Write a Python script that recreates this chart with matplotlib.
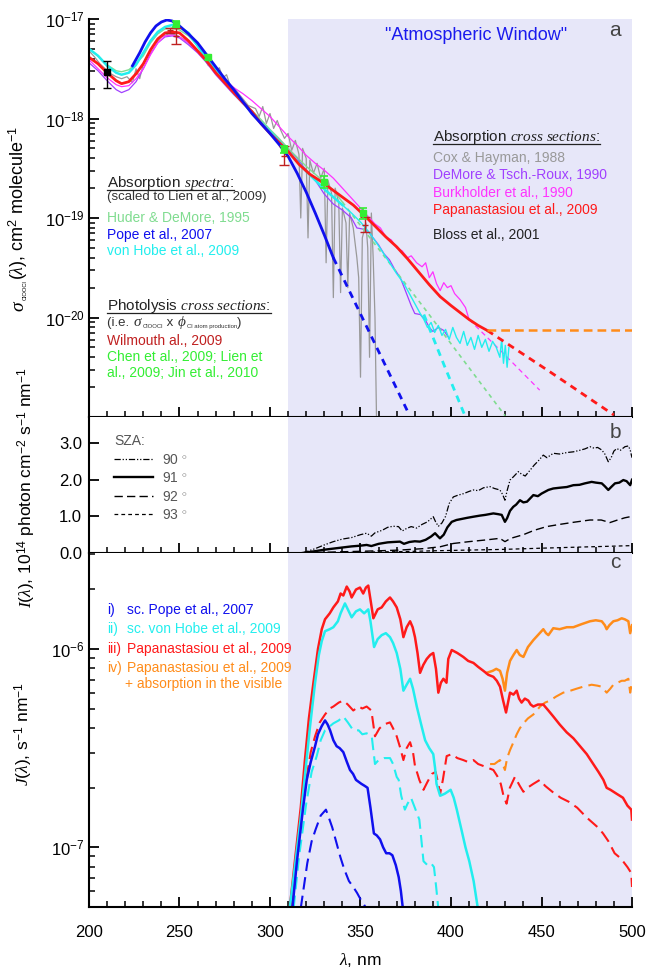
import numpy as np
import matplotlib
matplotlib.use('Agg')
import matplotlib.pyplot as plt
from matplotlib.ticker import FixedLocator, LogLocator, NullFormatter, MultipleLocator, LogFormatterSciNotation, FormatStrFormatter
from matplotlib.lines import Line2D

plt.rcParams['font.family'] = ['Liberation Sans', 'DejaVu Sans']
plt.rcParams['mathtext.fontset'] = 'custom'
plt.rcParams['mathtext.rm'] = 'Liberation Sans'
plt.rcParams['mathtext.it'] = 'Liberation Serif:italic'
plt.rcParams['mathtext.bf'] = 'Liberation Sans:bold'
plt.rcParams['mathtext.sf'] = 'Liberation Sans'
plt.rcParams['axes.unicode_minus'] = True

# ---------------- Panel a data: (wavelength nm, log10 cross section) ----------------
pope_lam = [224, 228, 231, 234, 237, 240, 243, 246, 250, 255, 260, 265, 270, 275, 280, 285, 290,
            295, 300, 305, 310, 315, 320, 325, 330, 335]
pope_log = [-17.47, -17.34, -17.23, -17.14, -17.07, -17.03, -17.01, -17.02, -17.07, -17.15, -17.24,
            -17.36, -17.48, -17.60, -17.71, -17.83, -17.95, -18.05, -18.15, -18.26, -18.38, -18.55,
            -18.74, -18.95, -19.17, -19.40]
pope_ext_lam = [335, 356, 377]
pope_ext_log = [-19.40, -20.19, -20.98]

hobe_lam = [200, 205, 210, 215, 218, 222, 226, 230, 234, 238, 242, 246, 250, 255, 260, 265, 270, 275,
            280, 285, 290, 295, 300, 305, 310, 315, 320, 325, 330, 335, 340, 345, 350, 355, 360, 365,
            370, 374, 377, 380, 383, 385, 387, 389, 391, 393, 395, 397, 399, 401, 403, 405, 407, 409,
            411, 413, 415, 417, 419, 421, 423, 425, 427, 428, 429, 430, 431, 432]
hobe_log = [-17.30, -17.37, -17.47, -17.54, -17.56, -17.54, -17.46, -17.34, -17.22, -17.13, -17.08,
            -17.06, -17.08, -17.14, -17.27, -17.40, -17.51, -17.63, -17.74, -17.84, -17.94, -18.04,
            -18.13, -18.23, -18.33, -18.43, -18.53, -18.62, -18.71, -18.79, -18.87, -18.95, -19.04,
            -19.15, -19.28, -19.42, -19.56, -19.66, -19.76, -19.86, -19.96, -20.02, -20.10, -20.05,
            -20.15, -20.08, -20.18, -20.12, -20.22, -20.10, -20.20, -20.26, -20.14, -20.28, -20.20,
            -20.32, -20.18, -20.30, -20.22, -20.34, -20.24, -20.30, -20.40, -20.22, -20.46, -20.28,
            -20.50, -20.30]
hobe_ext_lam = [385, 396, 408]
hobe_ext_log = [-19.97, -20.47, -21.0]

huder_lam = [200, 205, 210, 215, 218, 222, 226, 230, 234, 238, 242, 246, 250, 255, 260, 265, 270, 275,
             280, 285, 290, 295, 300, 305, 310, 315, 320, 325, 330, 335, 340]
huder_log = [-17.30, -17.37, -17.46, -17.52, -17.53, -17.51, -17.45, -17.37, -17.24, -17.15, -17.10,
             -17.09, -17.11, -17.17, -17.27, -17.39, -17.51, -17.62, -17.73, -17.83, -17.92, -18.01,
             -18.11, -18.20, -18.30, -18.39, -18.48, -18.56, -18.64, -18.72, -18.84]
huder_ext_lam = [340, 385, 430]
huder_ext_log = [-18.84, -19.90, -20.99]

papa_lam = [200, 205, 210, 215, 218, 222, 226, 230, 234, 238, 242, 246, 250, 255, 260, 265, 270, 275,
            280, 285, 290, 295, 300, 305, 310, 316, 322, 328, 334, 340, 346, 353, 358, 364, 370, 376,
            382, 388, 394, 400, 405, 410, 415, 420]
papa_log = [-17.385, -17.45, -17.54, -17.62, -17.65, -17.63, -17.55, -17.45, -17.31, -17.20, -17.14,
            -17.13, -17.14, -17.22, -17.32, -17.42, -17.54, -17.64, -17.74, -17.84, -17.93, -18.05,
            -18.15, -18.24, -18.33, -18.46, -18.56, -18.63, -18.71, -18.79, -18.87, -18.99, -19.08,
            -19.19, -19.29, -19.41, -19.54, -19.67, -19.79, -19.88, -19.95, -20.02, -20.08, -20.13]
papa_ext_lam = [420, 455, 490]
papa_ext_log = [-20.13, -20.55, -20.98]
vis_lam = [420, 500]
vis_log = [-20.13, -20.13]

burk_lam = [200, 205, 210, 215, 218, 222, 226, 230, 234, 238, 242, 246, 250, 255, 260, 265, 270, 275,
            280, 285, 290, 295, 300, 305, 310, 315, 320, 325, 330, 335, 340, 345, 350, 355, 358, 361,
            364, 367, 370, 373, 376, 378, 381, 384, 386, 388, 390, 392, 394, 396, 398, 400, 402, 405,
            408, 410]
burk_log = [-17.41, -17.50, -17.59, -17.66, -17.68, -17.67, -17.60, -17.50, -17.36, -17.24, -17.17,
            -17.16, -17.18, -17.24, -17.33, -17.42, -17.52, -17.61, -17.69, -17.75, -17.82, -17.90,
            -17.98, -18.08, -18.18, -18.27, -18.37, -18.45, -18.52, -18.60, -18.70, -18.80, -18.90,
            -19.00, -19.06, -19.10, -19.19, -19.22, -19.30, -19.33, -19.40, -19.38, -19.45, -19.49,
            -19.45, -19.60, -19.54, -19.66, -19.73, -19.65, -19.70, -19.68, -19.76, -19.82, -19.90,
            -20.02]
burk_ext_lam = [410, 430, 449]
burk_ext_log = [-20.02, -20.38, -20.73]

demore_lam = [200, 205, 210, 215, 218, 222, 226, 230, 234, 238, 242, 246, 250, 255, 260, 265, 270,
              275, 280, 285, 290, 295, 300, 305, 310, 315, 320, 325, 330, 335, 340, 345, 348, 351,
              354, 357, 360, 363, 366, 369, 372, 375, 378, 380, 383, 386, 388, 390, 393, 396, 399]
demore_log = [-17.44, -17.52, -17.62, -17.71, -17.74, -17.71, -17.63, -17.50, -17.35, -17.24, -17.18,
              -17.17, -17.19, -17.26, -17.34, -17.44, -17.56, -17.66, -17.76, -17.85, -17.93, -18.03,
              -18.12, -18.21, -18.30, -18.40, -18.52, -18.62, -18.76, -18.86, -18.92, -19.00, -19.10,
              -19.11, -19.13, -19.20, -19.27, -19.36, -19.42, -19.52, -19.60, -19.74, -19.88, -19.96,
              -19.97, -20.03, -20.10, -20.14, -20.10, -20.13, -20.21]

cox_lam = [200, 203, 206, 209, 212, 215, 218, 221, 224, 226, 228, 230, 233, 236, 240, 244, 248, 252,
           256, 260, 264, 266, 268, 270, 272, 274, 276, 278, 280, 284, 288, 292, 294, 296, 298, 300,
           302, 304, 306, 308, 310, 312, 314, 316, 317, 318, 320, 321, 322, 324, 326, 328, 330, 331,
           332, 334, 335, 336, 338, 339, 340, 342, 343, 344, 346, 348, 349, 350, 351, 353, 354, 355,
           356, 357, 358, 359]
cox_log = [-17.32, -17.38, -17.45, -17.50, -17.55, -17.58, -17.60, -17.58, -17.64, -17.50, -17.60,
           -17.45, -17.35, -17.26, -17.18, -17.15, -17.16, -17.20, -17.26, -17.33, -17.41, -17.47,
           -17.43, -17.53, -17.49, -17.59, -17.56, -17.67, -17.69, -17.78, -17.87, -17.90, -17.98,
           -17.88, -18.05, -17.95, -18.10, -18.02, -18.12, -18.20, -18.15, -18.32, -18.22, -18.36,
           -19.0, -18.30, -18.40, -19.2, -18.42, -18.55, -18.45, -18.60, -18.50, -19.45, -18.62,
           -18.75, -19.80, -18.70, -18.85, -19.75, -18.90, -19.05, -19.70, -18.95, -19.10, -19.40,
           -19.60, -20.60, -19.20, -19.05, -19.30, -20.40, -18.95, -19.40, -20.0, -21.2]

bloss_lam = [209.7]
bloss_val = [2.96e-18]
bloss_lo = [0.92e-18]
bloss_hi = [0.84e-18]

lien_lam = [248, 266, 308, 330, 351.5]
lien_log = [-17.05, -17.385, -18.31, -18.635, -18.95]
lien_relerr = [0.06, 0.06, 0.08, 0.13, 0.13]

wilm_lam = [244.5, 248, 308, 352.5]
wilm_val = [7.7e-18, 6.8e-18, 4.2e-19, 8.6e-20]
wilm_lo = [0.5e-18, 1.2e-18, 0.8e-19, 1.4e-20]
wilm_hi = [0.5e-18, 1.25e-18, 1.05e-19, 1.6e-20]

# ---------------- Panel b data: actinic flux, 1e14 photon cm-2 s-1 nm-1 ----------------
sza90_lam = [318, 325, 330, 335, 340, 345, 350, 353.4, 356, 358, 362, 365, 368, 371, 373, 375.5, 378,
             381, 384, 387, 390.2, 391.5, 393, 395, 397, 399, 401.3, 404, 407, 410, 412.4, 415, 418,
             421.6, 424, 427, 428.5, 429.8, 431, 432.6, 434.5, 437.2, 439, 441, 443.7, 446, 448, 451,
             453, 456.5, 460, 464, 467.6, 471, 474, 476.8, 479, 481, 483.3, 485, 486.9, 488.5, 490,
             491.6, 493.5, 496.1, 498, 499, 500]
sza90_val = [0.0, 0.12, 0.22, 0.31, 0.38, 0.42, 0.50, 0.54, 0.46, 0.55, 0.62, 0.70, 0.73, 0.72, 0.60,
             0.67, 0.72, 0.68, 0.78, 0.85, 0.99, 0.85, 0.73, 0.82, 1.00, 1.35, 1.53, 1.58, 1.62, 1.68,
             1.72, 1.70, 1.78, 1.81, 1.76, 1.72, 1.60, 1.44, 1.70, 1.99, 2.08, 2.22, 2.15, 2.10, 2.26,
             2.40, 2.50, 2.67, 2.60, 2.72, 2.70, 2.74, 2.76, 2.80, 2.84, 2.90, 2.86, 2.88, 2.81, 2.70,
             2.49, 2.60, 2.78, 2.85, 2.80, 2.90, 2.92, 2.81, 2.60]
sza91_lam = [318, 325, 330, 335, 340, 345, 350, 353.4, 356, 360, 365, 368, 371.8, 374, 377, 380, 382.9,
             386, 389, 391.2, 392.5, 393.9, 396, 398, 400.4, 403, 406, 409, 412.4, 416, 419, 423.4,
             426, 428, 429.8, 431, 432.6, 434.4, 436, 438.1, 440, 442, 445.5, 448, 450, 453.8, 456.5,
             460, 464, 467.6, 471, 474, 477.7, 480, 483.3, 485, 486.9, 488.5, 490.6, 493, 495.2, 497,
             499, 500]
sza91_val = [0.0, 0.05, 0.09, 0.12, 0.15, 0.18, 0.20, 0.22, 0.19, 0.25, 0.29, 0.30, 0.31, 0.25, 0.30,
             0.32, 0.31, 0.36, 0.45, 0.54, 0.47, 0.40, 0.50, 0.70, 0.85, 0.90, 0.93, 0.96, 0.99, 1.02,
             1.04, 1.08, 1.06, 1.04, 0.85, 0.95, 1.15, 1.26, 1.32, 1.44, 1.38, 1.40, 1.58, 1.55, 1.62,
             1.72, 1.76, 1.78, 1.80, 1.85, 1.86, 1.90, 1.94, 1.92, 1.90, 1.82, 1.72, 1.80, 1.90, 1.92,
             1.99, 1.96, 1.85, 2.00]
sza92_lam = [318, 330, 345, 360, 371.8, 385, 394, 398, 401.3, 410, 420, 427, 429.8, 433, 440, 446,
             452.8, 460, 468, 476.8, 483, 487.8, 492, 496, 499, 500]
sza92_val = [0.0, 0.02, 0.04, 0.06, 0.08, 0.12, 0.17, 0.22, 0.26, 0.31, 0.36, 0.40, 0.31, 0.40, 0.50,
             0.62, 0.72, 0.78, 0.84, 0.90, 0.90, 0.83, 0.90, 0.96, 0.99, 0.93]
sza93_lam = [318, 340, 360, 375, 390, 410, 430, 449, 470, 485, 499, 500]
sza93_val = [0.0, 0.01, 0.03, 0.04, 0.06, 0.08, 0.10, 0.13, 0.16, 0.18, 0.20, 0.19]
sza_labels = [r'90 $^{\circ}$', r'91 $^{\circ}$', r'92 $^{\circ}$', r'93 $^{\circ}$']

# ---------------- Panel c data: photolysis frequency, log10 J (s-1 nm-1) ----------------
pp_lam = [311, 314, 317, 319.3, 321.5, 324, 326.5, 328.6, 330.4, 333, 335, 337.5, 339, 340.5, 342.4,
          344, 345.1, 347.5, 349.7, 351.5, 353, 354.3, 355.5, 357.1, 359.5, 361.7, 364, 366.3, 368,
          370, 372, 373.7, 375.5, 377.4, 378.8, 380.1, 381.5, 382.9, 384.7, 386.6, 388.5, 390.2,
          391.7, 393, 394.4, 395.8, 397.5, 398.5, 400.4, 403.5, 406.8, 409.5, 412.4, 415, 417.9,
          420.6, 423.4, 425.3, 427.1, 428.8, 430.4, 431.5, 432.6, 434.5, 436.3, 437.6, 439, 440.8,
          442.7, 444, 445.5, 448, 451, 453.8, 456.5, 460, 463.9, 467.6, 471.3, 475, 478.6, 481.5,
          484.2, 486, 488.1, 491.5, 495, 497.5, 499.6, 500]
pp_log = [-7.30, -7.05, -6.80, -6.56, -6.35, -6.17, -6.00, -5.90, -5.85, -5.82, -5.79, -5.76, -5.72,
          -5.73, -5.685, -5.71, -5.74, -5.70, -5.69, -5.72, -5.69, -5.68, -5.75, -5.845, -5.80,
          -5.79, -5.76, -5.74, -5.76, -5.79, -5.85, -5.94, -5.89, -5.86, -5.89, -5.94, -6.02, -6.12,
          -6.08, -6.05, -6.03, -6.02, -6.10, -6.22, -6.17, -6.15, -6.17, -6.05, -6.005, -6.02,
          -6.04, -6.06, -6.07, -6.09, -6.11, -6.13, -6.14, -6.16, -6.19, -6.26, -6.32, -6.27, -6.22,
          -6.23, -6.21, -6.25, -6.27, -6.25, -6.26, -6.28, -6.29, -6.28, -6.28, -6.31, -6.34, -6.38,
          -6.42, -6.45, -6.49, -6.53, -6.58, -6.62, -6.66, -6.70, -6.71, -6.73, -6.75, -6.79, -6.81,
          -6.86]
pv_lam = [419.7, 423, 425, 427.1, 428.5, 429.8, 431, 432.6, 434.5, 436.3, 438, 440, 442.5, 445.5,
          448, 451, 452.5, 453.8, 456.5, 460, 464, 467.6, 472, 476.8, 480, 483.3, 485, 486, 487.5,
          489.7, 492, 494.3, 496, 498, 499, 500]
pv_log = [-6.12, -6.11, -6.10, -6.11, -6.15, -6.21, -6.12, -6.06, -6.03, -6.005, -6.03, -6.04, -5.99,
          -5.955, -5.93, -5.90, -5.92, -5.93, -5.895, -5.90, -5.89, -5.89, -5.875, -5.86, -5.855,
          -5.86, -5.88, -5.90, -5.88, -5.86, -5.855, -5.845, -5.85, -5.86, -5.92, -5.88]
vh_lam = [311, 314, 317, 319.5, 322, 324.9, 327, 328.6, 330.4, 333, 335, 337.5, 339, 341.4, 343,
          345.1, 347.5, 349.7, 352, 354.3, 355.5, 357.5, 359.5, 361.7, 364, 366.3, 368, 370, 372,
          373.7, 375.5, 377.4, 379, 381.1, 383.5, 385.7, 388, 390.2, 391.2, 392, 394, 396.5, 399.8,
          401.5, 403.2, 406, 408, 410.1, 412.5, 414.7, 416.5]
vh_log = [-7.30, -7.08, -6.85, -6.62, -6.40, -6.17, -6.03, -5.96, -5.91, -5.90, -5.89, -5.86, -5.82,
          -5.77, -5.80, -5.84, -5.81, -5.80, -5.82, -5.80, -5.86, -5.99, -5.95, -5.93, -5.92, -5.94,
          -5.97, -6.02, -6.10, -6.21, -6.18, -6.15, -6.20, -6.29, -6.38, -6.46, -6.50, -6.53, -6.60,
          -6.68, -6.74, -6.73, -6.71, -6.75, -6.81, -6.92, -7.00, -7.07, -7.17, -7.30, -7.40]
po_lam = [311.4, 314.9, 318.3, 320.3, 322.5, 324.9, 326.5, 328.5, 330.4, 331.8, 333.2, 335, 336.8,
          338.5, 340.5, 342.5, 344.2, 345.9, 347.5, 350.5, 352.3, 353.9, 355.5, 357.4, 359, 360.8,
          362.5, 364.2, 366, 367.6, 369.5, 371.1, 372.3, 373.3, 374.5]
po_log = [-7.40, -7.07, -6.80, -6.66, -6.57, -6.49, -6.43, -6.39, -6.36, -6.38, -6.41, -6.46, -6.49,
          -6.50, -6.52, -6.57, -6.61, -6.63, -6.66, -6.68, -6.69, -6.70, -6.80, -6.93, -6.94, -6.96,
          -7.00, -7.03, -7.03, -7.04, -7.09, -7.15, -7.22, -7.30, -7.40]
# dashed = second solar zenith angle
po2_lam = [315.5, 317.1, 320.6, 323, 325.2, 328, 330.9, 332.5, 334.4, 336.5, 338.9, 341, 343.6, 346,
           348.1, 350.5, 352.7, 354, 356]
po2_log = [-7.40, -7.30, -7.08, -6.97, -6.91, -6.84, -6.81, -6.85, -6.90, -6.97, -7.05, -7.11, -7.17,
           -7.20, -7.23, -7.27, -7.30, -7.35, -7.40]
vh2_lam = [312, 316, 320, 323, 325.8, 328, 330.4, 333, 335, 338, 340.5, 343, 346, 349, 351, 353.4,
           356.2, 358, 360, 363, 366.3, 368, 370, 371.1, 372.5, 374.5, 376, 377.9, 380, 382.5, 383.5,
           384.8, 387, 389, 390.6, 391.8, 392.9, 394]
vh2_log = [-7.40, -7.05, -6.78, -6.62, -6.54, -6.46, -6.41, -6.39, -6.375, -6.36, -6.34, -6.37, -6.41,
           -6.41, -6.43, -6.425, -6.44, -6.58, -6.56, -6.55, -6.55, -6.58, -6.645, -6.66, -6.74,
           -6.81, -6.78, -6.75, -6.80, -6.86, -6.95, -7.07, -7.09, -7.08, -7.10, -7.20, -7.30, -7.40]
pp2_lam = [311, 314, 317, 320, 322.5, 324.9, 327.5, 330.4, 333, 335, 338, 340.5, 343, 346, 349, 351,
           353.4, 356, 358, 360.5, 363, 366.3, 368, 370, 372, 373.7, 375.5, 377.4, 379, 380.1, 381.5,
           382.5, 384.8, 387, 389.4, 391.5, 393, 394, 395.5, 397.6, 400.4, 403.5, 406.8, 409.5,
           412.4, 415, 417.9, 420.6, 423.4, 425.5, 427.5, 429, 430.7, 432.5, 435.3, 438, 440, 442.2,
           445.5, 449.1, 452, 456, 460.6, 465, 469.7, 475, 481.2, 484, 487, 490.4, 493, 495, 497.5,
           499.6, 500]
pp2_log = [-7.40, -7.10, -6.85, -6.66, -6.52, -6.44, -6.37, -6.33, -6.30, -6.29, -6.27, -6.26, -6.28,
           -6.31, -6.29, -6.30, -6.29, -6.31, -6.44, -6.40, -6.38, -6.37, -6.40, -6.44, -6.50, -6.56,
           -6.50, -6.47, -6.52, -6.59, -6.63, -6.66, -6.71, -6.67, -6.63, -6.62, -6.68, -6.73, -6.66,
           -6.54, -6.53, -6.55, -6.56, -6.57, -6.56, -6.58, -6.59, -6.60, -6.61, -6.64, -6.68, -6.74,
           -6.78, -6.70, -6.645, -6.69, -6.72, -6.70, -6.68, -6.66, -6.69, -6.72, -6.75, -6.77,
           -6.80, -6.85, -6.90, -6.93, -6.97, -7.03, -7.05, -7.07, -7.10, -7.13, -7.20]
pv2_lam = [421.6, 424, 427, 428.5, 429.8, 431, 432.6, 434.5, 436.3, 438, 440, 442.5, 445.5, 449.2,
           452, 454.7, 458, 462, 466, 469.4, 473, 477.7, 481, 483.3, 486, 488, 489.7, 492, 494.3, 496,
           498, 499, 500]
pv2_log = [-6.58, -6.58, -6.56, -6.58, -6.61, -6.55, -6.51, -6.47, -6.43, -6.40, -6.375, -6.35, -6.33,
           -6.29, -6.27, -6.26, -6.24, -6.22, -6.21, -6.20, -6.19, -6.18, -6.185, -6.19, -6.22, -6.20,
           -6.18, -6.17, -6.16, -6.16, -6.15, -6.22, -6.17]

# ---------------- colours ----------------
C_BLUE = '#1010EE'
C_CYAN = '#22EEEE'
C_RED = '#FF1A1A'
C_ORANGE = '#FF8C1A'
C_MAG = '#FF33FF'
C_PURP = '#A040FF'
C_HUDER = '#80DC90'
C_GRAY = '#999999'
C_LIME = '#33EE33'
C_WILM = '#C02020'
SHADE = '#E7E7F9'

W, H = 649, 968
fig = plt.figure(figsize=(W / 100, H / 100), dpi=100)
rend = fig.canvas.get_renderer()


def fx(px):
    return px / W


def fy(py):
    return 1 - py / H


L, Rr = 89, 632
axa = fig.add_axes([fx(L), fy(417), (Rr - L) / W, (417 - 19) / H])
axb = fig.add_axes([fx(L), fy(553), (Rr - L) / W, (553 - 417) / H])
axc = fig.add_axes([fx(L), fy(907), (Rr - L) / W, (907 - 553) / H])

for ax in (axa, axb, axc):
    ax.set_xlim(200, 500)
    ax.axvspan(310, 500, color=SHADE, lw=0, zorder=0)
    for s in ('top', 'right'):
        ax.spines[s].set_visible(False)
    for s in ('left', 'bottom'):
        ax.spines[s].set_linewidth(1.5)
        ax.spines[s].set_zorder(5)
    ax.xaxis.set_major_locator(MultipleLocator(50))
    ax.xaxis.set_minor_locator(MultipleLocator(10))
    ax.tick_params(which='major', direction='in', length=7, width=1.3, labelsize=12)
    ax.tick_params(which='minor', direction='in', length=4, width=1.1)
    ax.tick_params(axis='x', labelbottom=False)

# ---- panel a ----
P = lambda v: np.power(10.0, np.array(v))
axa.set_yscale('log')
axa.set_ylim(1e-21, 1e-17)
axa.plot(cox_lam, P(cox_log), color=C_GRAY, lw=0.9, zorder=2)
axa.plot(demore_lam, P(demore_log), color=C_PURP, lw=0.9, zorder=3)
axa.plot(burk_lam, P(burk_log), color=C_MAG, lw=0.9, zorder=3)
axa.plot(burk_ext_lam, P(burk_ext_log), color=C_MAG, lw=0.9, ls=(0, (4, 3)), zorder=3)
axa.plot(huder_lam, P(huder_log), color=C_HUDER, lw=1.0, zorder=3)
axa.plot(huder_ext_lam, P(huder_ext_log), color=C_HUDER, lw=1.2, ls=(0, (2.5, 2.5)), zorder=3)
hl = np.array(hobe_lam)
hv = P(hobe_log)
axa.plot(hl[hl <= 340], hv[hl <= 340], color=C_CYAN, lw=1.8, zorder=4)
axa.plot(hl[hl >= 340], hv[hl >= 340], color=C_CYAN, lw=1.0, zorder=4)
axa.plot(hobe_ext_lam, P(hobe_ext_log), color=C_CYAN, lw=2.0, ls=(0, (2.5, 2)), zorder=4)
axa.plot(papa_lam, P(papa_log), color=C_RED, lw=2.0, zorder=4)
axa.plot(papa_ext_lam, P(papa_ext_log), color=C_RED, lw=2.0, ls=(0, (2.5, 2)), zorder=4)
axa.plot(vis_lam, P(vis_log), color=C_ORANGE, lw=1.8, ls=(0, (3.5, 2)), zorder=4)
axa.plot(pope_lam, P(pope_log), color=C_BLUE, lw=2.0, zorder=4)
axa.plot(pope_ext_lam, P(pope_ext_log), color=C_BLUE, lw=2.0, ls=(0, (2.5, 2)), zorder=4)

axa.errorbar(bloss_lam, bloss_val, yerr=[bloss_lo, bloss_hi], fmt='s', color='black', ms=5,
             capsize=3, elinewidth=1.0, capthick=1.0, zorder=6)
lien_v = P(lien_log)
lien_e = lien_v * np.array(lien_relerr)
axa.errorbar(lien_lam, lien_v, yerr=lien_e, fmt='s', color=C_LIME, ms=4.5, capsize=3,
             elinewidth=1.2, capthick=1.2, zorder=7)
axa.errorbar(wilm_lam, wilm_val, yerr=[wilm_lo, wilm_hi], fmt='_', color=C_WILM, ms=5,
             capsize=3.5, elinewidth=1.0, capthick=1.0, zorder=6)

axa.yaxis.set_major_locator(FixedLocator([1e-20, 1e-19, 1e-18, 1e-17]))
axa.yaxis.set_major_formatter(LogFormatterSciNotation())
axa.yaxis.set_minor_locator(LogLocator(base=10, subs=np.arange(2, 10)))
axa.yaxis.set_minor_formatter(NullFormatter())
axa.tick_params(axis='y', pad=3)

# ---- panel b ----
axb.set_ylim(0, 3.71)
hb = []
hb += axb.plot(sza90_lam, sza90_val, color='black', lw=0.9, ls=(0, (5, 1.5, 1, 1.5, 1, 1.5)))
hb += axb.plot(sza91_lam, sza91_val, color='black', lw=1.7, ls='-')
hb += axb.plot(sza92_lam, sza92_val, color='black', lw=1.0, ls=(0, (6, 3)))
hb += axb.plot(sza93_lam, sza93_val, color='black', lw=0.9, ls=(0, (3, 2.5)))
axb.yaxis.set_major_locator(FixedLocator([0, 1, 2, 3]))
axb.yaxis.set_major_formatter(FormatStrFormatter('%.1f'))
axb.tick_params(axis='y', pad=5)
leg = axb.legend(hb, sza_labels, title='SZA:', loc='upper left', bbox_to_anchor=(0.046, 0.875),
                 frameon=False, fontsize=10, title_fontsize=10, handlelength=2.8, handletextpad=0.65,
                 labelspacing=0.33, borderaxespad=0, borderpad=0)
leg._legend_box.align = 'left'
for t in leg.get_texts():
    t.set_color('#555555')
leg.get_title().set_color('#555555')

# ---- panel c ----
axc.set_yscale('log')
axc.set_ylim(5e-8, 3.05e-6)
axc.plot(pp2_lam, P(pp2_log), color=C_RED, lw=1.5, ls=(0, (6, 3)), zorder=3)
axc.plot(pv2_lam, P(pv2_log), color=C_ORANGE, lw=1.5, ls=(0, (6, 3)), zorder=3)
axc.plot(vh2_lam, P(vh2_log), color=C_CYAN, lw=1.5, ls=(0, (6, 3)), zorder=3)
axc.plot(po2_lam, P(po2_log), color=C_BLUE, lw=1.5, ls=(0, (6, 3)), zorder=3)
axc.plot(pv_lam, P(pv_log), color=C_ORANGE, lw=1.8, zorder=4)
axc.plot(pp_lam, P(pp_log), color=C_RED, lw=1.8, zorder=4)
axc.plot(vh_lam, P(vh_log), color=C_CYAN, lw=1.8, zorder=4)
axc.plot(po_lam, P(po_log), color=C_BLUE, lw=1.8, zorder=4)
axc.yaxis.set_major_locator(FixedLocator([1e-7, 1e-6]))
axc.yaxis.set_major_formatter(LogFormatterSciNotation())
axc.yaxis.set_minor_locator(LogLocator(base=10, subs=np.arange(2, 10)))
axc.yaxis.set_minor_formatter(NullFormatter())
axc.tick_params(axis='y', pad=3)
axc.tick_params(axis='x', labelbottom=True, pad=13)


# ---------------- texts ----------------
def T(px, py, s, **kw):
    return fig.text(fx(px), fy(py), s, **kw)


def chain(px, py, pieces, color='#222222', vertical=False):
    """Place text pieces one after another; pieces = (text, fontsize, subscript shift px)."""
    pos = px if not vertical else py
    for s, fs, shift in pieces:
        if vertical:
            t = T(px + shift, pos, s, fontsize=fs, rotation=90, rotation_mode='anchor',
                  ha='left', va='baseline', color=color)
            bb = t.get_window_extent(rend)
            pos -= bb.height
        else:
            t = T(pos, py + shift, s, fontsize=fs, ha='left', va='baseline', color=color)
            bb = t.get_window_extent(rend)
            pos += bb.width


underlined = []
underlined.append(T(107, 187, r'Absorption $\mathit{spectra}$:', fontsize=11, va='baseline', color='#222222'))
T(107, 197, '(scaled to Lien et al., 2009)', fontsize=9.5, va='center', color='#333333')
T(107, 218, 'Huder & DeMore, 1995', fontsize=10, va='center', color=C_HUDER)
T(107, 235, 'Pope et al., 2007', fontsize=10, va='center', color=C_BLUE)
T(107, 251, 'von Hobe et al., 2009', fontsize=10, va='center', color=C_CYAN)
underlined.append(T(107, 310, r'Photolysis $\mathit{cross\ sections}$:', fontsize=11, va='baseline', color='#222222'))
chain(107, 326, [('(i.e. ', 9.5, 0), (r'$\sigma$', 11, 0), ('ClOOCl', 4.3, 2), (' x ', 9.5, 0),
                 (r'$\phi$', 11, 0), ('Cl atom production', 4.3, 2), (')', 9.5, 0)], color='#333333')
T(107, 341, 'Wilmouth al., 2009', fontsize=10, va='center', color=C_WILM)
T(107, 357, 'Chen et al., 2009; Lien et', fontsize=10, va='center', color=C_LIME)
T(107, 373, 'al., 2009; Jin et al., 2010', fontsize=10, va='center', color=C_LIME)

underlined.append(T(433, 141, r'Absorption $\mathit{cross\ sections}$:', fontsize=11, va='baseline', color='#222222'))
T(433, 158, 'Cox & Hayman, 1988', fontsize=10, va='center', color=C_GRAY)
T(433, 175, 'DeMore & Tsch.-Roux, 1990', fontsize=10, va='center', color=C_PURP)
T(433, 193, 'Burkholder et al., 1990', fontsize=10, va='center', color=C_MAG)
T(433, 210, 'Papanastasiou et al., 2009', fontsize=10, va='center', color=C_RED)
T(433, 235, 'Bloss et al., 2001', fontsize=10, va='center', color='#222222')

T(476, 35, '"Atmospheric Window"', fontsize=13, ha='center', va='center', color='#1a1aee')
T(615, 30, 'a', fontsize=15, ha='center', va='center', color='#444444')
T(615, 433, 'b', fontsize=15, ha='center', va='center', color='#444444')
T(615, 563, 'c', fontsize=15, ha='center', va='center', color='#444444')

for py, pre, s, c in [(610, 'i)', 'sc. Pope et al., 2007', C_BLUE),
                      (629, 'ii)', 'sc. von Hobe et al., 2009', C_CYAN),
                      (649, 'iii)', 'Papanastasiou et al., 2009', C_RED),
                      (668, 'iv)', 'Papanastasiou et al., 2009', C_ORANGE)]:
    T(107, py, pre, fontsize=10, va='center', color=c)
    T(127, py, s, fontsize=10, va='center', color=c)
T(125, 684, '+ absorption in the visible', fontsize=10, va='center', color=C_ORANGE)

# axis titles
chain(24, 312, [(r'$\sigma$', 14, 0), ('ClOOCl', 4.2, 3),
                (r'$(\lambda)$, cm$^{2}$ molecule$^{-1}$', 13, 0)], color='black', vertical=True)
T(27, 488, r'$I(\lambda)$, 10$^{14}$ photon cm$^{-2}$ s$^{-1}$ nm$^{-1}$', fontsize=12.5, rotation=90,
  ha='center', va='center')
T(24, 734, r'$J(\lambda)$, s$^{-1}$ nm$^{-1}$', fontsize=12.5, rotation=90, ha='center', va='center')
T(360, 960, r'$\lambda$, nm', fontsize=12.5, ha='center', va='center')

# underline the headings
inv = fig.transFigure.inverted()
for t in underlined:
    bb = t.get_window_extent(rend)
    base_y = t.get_position()[1]
    yline = base_y - 2.5 / H
    x0 = inv.transform((bb.x0, 0))[0]
    x1 = inv.transform((bb.x1, 0))[0]
    fig.add_artist(Line2D([x0, x1], [yline, yline], transform=fig.transFigure, color='#222222', lw=0.9))

fig.savefig('out.png', dpi=100)
